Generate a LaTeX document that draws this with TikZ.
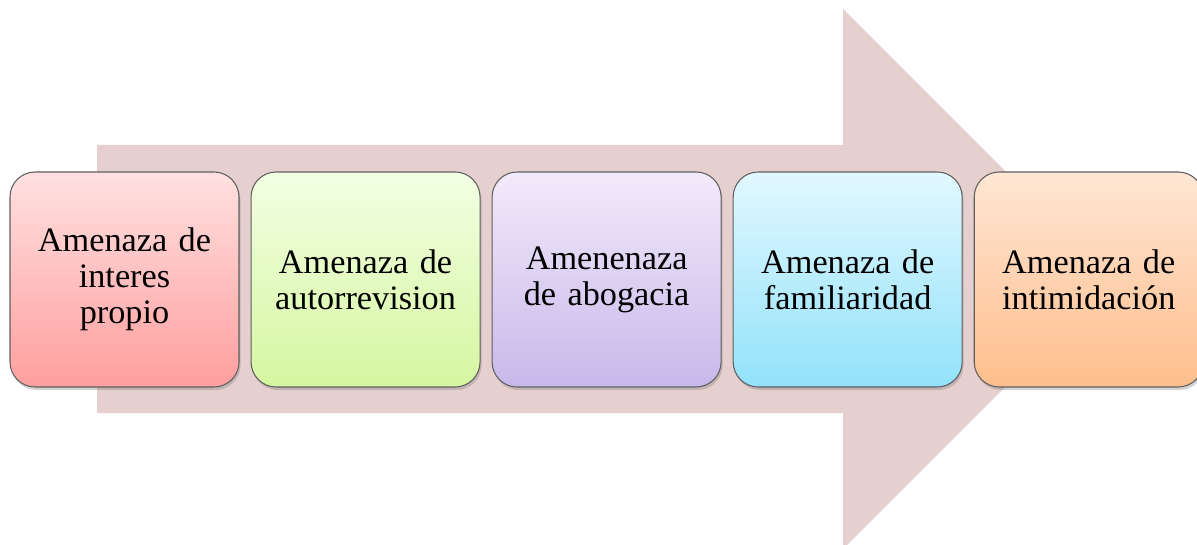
\documentclass[tikz,border=0pt]{standalone}
\usepackage{fontspec}
\setmainfont{Liberation Serif}
\usetikzlibrary{positioning,shadows}

\definecolor{flecha}{RGB}{230,207,207}
\definecolor{borde}{RGB}{95,95,95}

\tikzset{
  amenaza/.style={draw=borde, line width=0.6pt, rounded corners=0.5cm,
    minimum width=4.58cm, minimum height=4.3cm, inner sep=0pt,
    text width=4.3cm, align=center, font=\fontsize{19.5}{20.5}\selectfont,
    drop shadow={opacity=0.35, shadow xshift=0.03cm, shadow yshift=-0.06cm}}
}

\begin{document}
\begin{tikzpicture}
    \useasboundingbox (0,0) rectangle (23.94,10.88);

    % --- Flecha de fondo ---
    \fill[flecha] (1.94,7.98) -- (16.86,7.98) -- (16.86,10.70) -- (22.26,5.30)
        -- (16.86,-0.10) -- (16.86,2.62) -- (1.94,2.62) -- cycle;

    % --- Amenazas ---
    \node[amenaza, top color=red!12, bottom color=red!38] (propio) at (2.49,5.29)
        {Amenaza de\\interes\\propio};
    \node[amenaza, right=0.22cm of propio, top color={rgb,255:red,242;green,255;blue,228},
        bottom color={rgb,255:red,214;green,246;blue,160}] (autorrevision)
        {Amenaza de\\autorrevision};
    \node[amenaza, right=0.22cm of autorrevision, top color={rgb,255:red,242;green,234;blue,250},
        bottom color={rgb,255:red,200;green,184;blue,234}] (abogacia)
        {Amenenaza\\de abogacia};
    \node[amenaza, right=0.22cm of abogacia, top color={rgb,255:red,226;green,248;blue,255},
        bottom color={rgb,255:red,146;green,226;blue,250}] (familiaridad)
        {Amenaza de\\familiaridad};
    \node[amenaza, right=0.22cm of familiaridad, top color={rgb,255:red,255;green,230;blue,212},
        bottom color={rgb,255:red,255;green,190;blue,140}] (intimidacion)
        {Amenaza de\\intimidación};
\end{tikzpicture}
\end{document}
